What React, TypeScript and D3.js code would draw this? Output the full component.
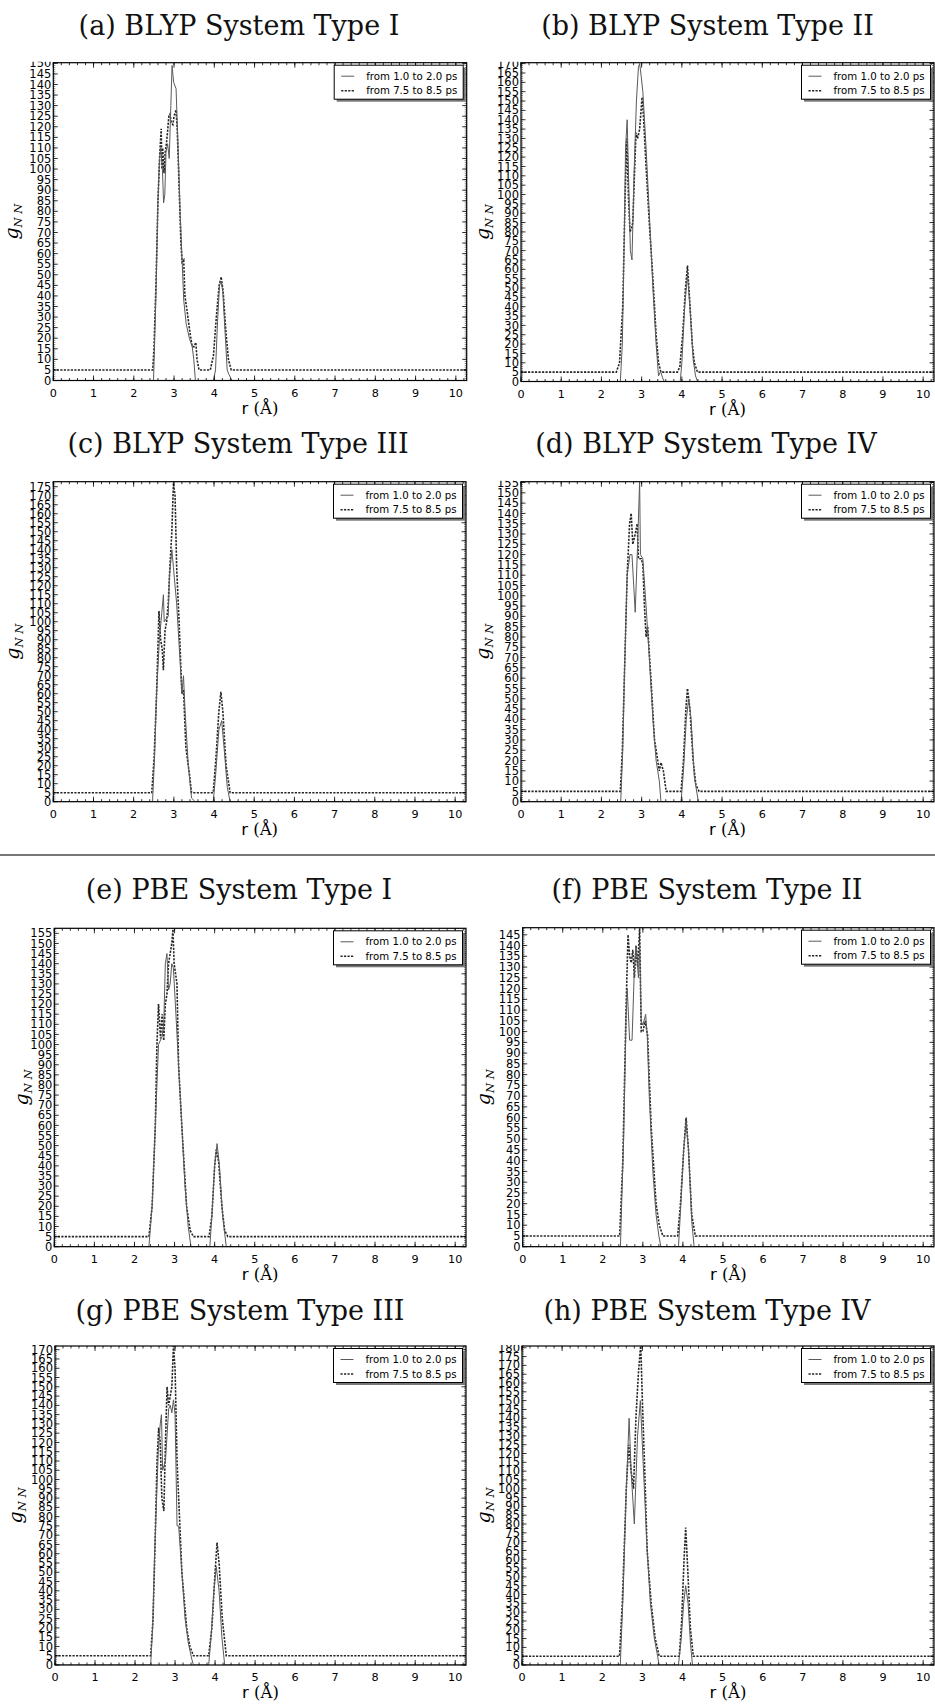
import React from 'react';
import * as d3 from 'd3';

type Pt = [number, number];

// ---------- data (r in Å, g_NN as plotted) ----------
const titles = [
  '(a) BLYP System Type I', '(b) BLYP System Type II',
  '(c) BLYP System Type III', '(d) BLYP System Type IV',
  '(e) PBE System Type I', '(f) PBE System Type II',
  '(g) PBE System Type III', '(h) PBE System Type IV',
];
const legendLabels = ['from 1.0 to 2.0 ps', 'from 7.5 to 8.5 ps'];
const xTicks = [0, 1, 2, 3, 4, 5, 6, 7, 8, 9, 10];
const xMax = 10.27;
const yMaxes = [150.3, 170.5, 177.8, 155.4, 157.5, 148.3, 172, 181];

const aEarly: Pt[] = [[0,0],[2.49,0],[2.55,40],[2.6,85],[2.64,105],[2.67,110],[2.71,100],[2.74,84],[2.77,88],[2.8,108],[2.84,112],[2.88,105],[2.92,130],[2.95,149],[2.99,141],[3.05,138],[3.1,110],[3.15,80],[3.2,57],[3.24,38],[3.3,27],[3.38,20],[3.45,16],[3.49,10],[3.53,0],[3.98,0],[4.03,5],[4.08,28],[4.13,45],[4.17,47],[4.21,42],[4.27,22],[4.32,5],[4.36,3],[4.44,0],[10.3,0]];
const aLate: Pt[] = [[0,5],[2.47,5],[2.5,15],[2.55,45],[2.6,85],[2.64,105],[2.68,119],[2.7,100],[2.72,110],[2.75,98],[2.78,108],[2.81,112],[2.84,118],[2.87,125],[2.9,126],[2.93,122],[2.97,121],[3.0,125],[3.05,128],[3.08,118],[3.12,95],[3.17,65],[3.2,56],[3.24,57],[3.27,40],[3.33,32],[3.4,22],[3.45,16],[3.5,16],[3.54,18],[3.57,10],[3.62,5],[3.9,5],[3.98,12],[4.05,30],[4.12,45],[4.17,49],[4.22,42],[4.28,25],[4.35,10],[4.42,5],[10.3,5]];

const bEarly: Pt[] = [[0,0],[2.47,0],[2.52,20],[2.57,80],[2.6,125],[2.64,140],[2.68,105],[2.72,70],[2.76,65],[2.81,110],[2.87,150],[2.92,168],[2.95,170],[2.99,163],[3.03,155],[3.07,140],[3.11,125],[3.19,90],[3.28,50],[3.36,20],[3.42,3],[3.47,5.5],[3.52,2],[3.56,0],[3.96,0],[4.0,10],[4.07,40],[4.14,57],[4.2,40],[4.28,12],[4.34,3],[4.39,0],[10.3,0]];
const bLate: Pt[] = [[0,5],[2.37,5],[2.45,10],[2.53,40],[2.59,100],[2.63,130],[2.67,100],[2.71,80],[2.75,82],[2.78,85],[2.82,110],[2.86,133],[2.9,130],[2.95,135],[3.01,152],[3.05,140],[3.11,115],[3.19,85],[3.28,55],[3.36,25],[3.42,10],[3.48,5],[3.89,5],[3.95,8],[4.02,25],[4.09,50],[4.14,62],[4.19,45],[4.26,20],[4.31,10],[4.39,5],[10.3,5]];

const cEarly: Pt[] = [[0,0],[2.47,0],[2.52,25],[2.57,60],[2.64,90],[2.7,105],[2.74,115],[2.76,100],[2.82,102],[2.86,103],[2.89,125],[2.95,140],[2.99,130],[3.07,110],[3.15,80],[3.2,60],[3.24,70],[3.28,50],[3.36,20],[3.44,2],[3.53,0],[3.98,0],[4.04,15],[4.12,40],[4.19,45],[4.25,30],[4.33,8],[4.4,0],[10.3,0]];
const cLate: Pt[] = [[0,5],[2.45,5],[2.51,25],[2.57,60],[2.63,106],[2.67,90],[2.71,85],[2.74,73],[2.78,95],[2.82,100],[2.86,110],[2.9,130],[2.95,150],[2.99,177],[3.03,170],[3.07,130],[3.13,100],[3.2,60],[3.24,62],[3.3,30],[3.39,15],[3.44,5],[3.98,5],[4.05,25],[4.12,50],[4.17,61],[4.22,50],[4.3,20],[4.4,5],[10.3,5]];

const dEarly: Pt[] = [[0,0],[2.48,0],[2.53,25],[2.57,60],[2.64,110],[2.71,120],[2.76,120],[2.84,92],[2.9,125],[2.95,156],[2.97,120],[3.03,118],[3.11,95],[3.19,70],[3.28,40],[3.36,20],[3.4,15],[3.44,10],[3.48,0],[3.98,0],[4.04,15],[4.11,40],[4.17,50],[4.23,40],[4.31,12],[4.41,0],[10.3,0]];
const dLate: Pt[] = [[0,5],[2.47,5],[2.52,25],[2.57,60],[2.64,110],[2.7,135],[2.74,140],[2.78,125],[2.84,130],[2.89,135],[2.92,118],[2.99,118],[3.03,115],[3.07,95],[3.11,80],[3.15,85],[3.23,60],[3.32,30],[3.36,25],[3.44,15],[3.48,19],[3.54,15],[3.61,5],[3.98,5],[4.04,20],[4.1,45],[4.14,55],[4.2,45],[4.28,20],[4.35,8],[4.43,5],[10.3,5]];

const eEarly: Pt[] = [[0,0],[2.36,0],[2.44,20],[2.52,60],[2.6,100],[2.69,104],[2.73,110],[2.77,140],[2.81,145],[2.85,127],[2.89,130],[2.93,140],[2.97,138],[3.02,120],[3.1,90],[3.18,60],[3.26,30],[3.34,10],[3.41,0],[3.88,0],[3.93,15],[4.0,40],[4.06,51],[4.12,40],[4.2,15],[4.29,0],[10.3,0]];
const eLate: Pt[] = [[0,5],[2.36,5],[2.44,20],[2.52,60],[2.56,100],[2.6,120],[2.65,103],[2.69,115],[2.73,102],[2.77,120],[2.81,125],[2.85,140],[2.89,145],[2.93,150],[2.96,157],[2.99,140],[3.06,130],[3.1,90],[3.18,60],[3.3,20],[3.39,8],[3.47,5],[3.86,5],[3.93,15],[4.0,40],[4.04,48],[4.1,42],[4.18,20],[4.25,8],[4.33,5],[10.3,5]];

const fEarly: Pt[] = [[0,0],[2.44,0],[2.52,50],[2.58,105],[2.61,120],[2.67,96],[2.73,96],[2.79,130],[2.83,140],[2.89,125],[2.92,140],[2.96,105],[3.0,103],[3.07,108],[3.11,98],[3.16,70],[3.25,35],[3.33,15],[3.4,5],[3.45,0],[3.89,0],[3.95,20],[4.02,45],[4.08,58],[4.14,45],[4.22,12],[4.28,0],[10.3,0]];
const fLate: Pt[] = [[0,5],[2.42,5],[2.5,40],[2.58,110],[2.63,145],[2.67,135],[2.71,132],[2.75,138],[2.79,125],[2.83,140],[2.87,130],[2.92,148],[2.96,100],[3.0,100],[3.06,105],[3.12,98],[3.21,55],[3.33,20],[3.41,10],[3.5,5],[3.87,5],[3.94,20],[4.02,45],[4.08,60],[4.14,45],[4.22,15],[4.31,5],[10.3,5]];

const gEarly: Pt[] = [[0,0],[2.39,0],[2.44,20],[2.49,60],[2.58,115],[2.63,130],[2.66,135],[2.69,105],[2.76,110],[2.84,138],[2.88,140],[2.92,136],[2.96,143],[3.0,135],[3.05,75],[3.09,75],[3.17,50],[3.25,25],[3.33,12],[3.42,3],[3.46,0],[3.84,0],[3.9,15],[3.97,40],[4.03,53],[4.1,40],[4.17,15],[4.24,0],[10.3,0]];
const gLate: Pt[] = [[0,5],[2.39,5],[2.45,25],[2.5,65],[2.55,110],[2.59,128],[2.63,120],[2.67,90],[2.72,83],[2.76,120],[2.8,150],[2.84,140],[2.88,145],[2.92,150],[2.96,172],[3.0,160],[3.05,110],[3.09,90],[3.17,50],[3.29,20],[3.37,10],[3.46,5],[3.84,5],[3.92,20],[4.0,50],[4.05,66],[4.1,55],[4.18,25],[4.28,5],[10.3,5]];

const hEarly: Pt[] = [[0,0],[2.45,0],[2.52,40],[2.6,100],[2.67,140],[2.72,110],[2.8,80],[2.88,130],[2.95,150],[3.05,100],[3.12,65],[3.2,35],[3.3,15],[3.42,0],[3.9,0],[3.97,15],[4.03,35],[4.08,45],[4.14,35],[4.2,12],[4.25,0],[10.3,0]];
const hLate: Pt[] = [[0,5],[2.43,5],[2.5,35],[2.6,100],[2.66,125],[2.72,110],[2.78,100],[2.84,140],[2.9,165],[2.96,182],[3.0,150],[3.06,110],[3.12,65],[3.22,35],[3.32,15],[3.42,5],[3.92,5],[3.98,25],[4.04,60],[4.08,78],[4.13,55],[4.2,20],[4.27,5],[10.3,5]];

const earlySeries = [aEarly, bEarly, cEarly, dEarly, eEarly, fEarly, gEarly, hEarly];
const lateSeries = [aLate, bLate, cLate, dLate, eLate, fLate, gLate, hLate];

// ---------- layout ----------
const layout = [
  { l: 53.3, r: 466.7, t: 62.7, b: 380.5, tx: 239, ty: 34.5, gx: 18 },
  { l: 521, r: 934, t: 62.7, b: 381.5, tx: 707.5, ty: 34.5, gx: 489 },
  { l: 53.3, r: 466, t: 481.7, b: 801.7, tx: 238, ty: 453.3, gx: 19 },
  { l: 521, r: 934, t: 481.7, b: 801.7, tx: 706, ty: 453.3, gx: 489 },
  { l: 54.3, r: 466, t: 928.3, b: 1246.7, tx: 239, ty: 899.3, gx: 28 },
  { l: 522.7, r: 934, t: 927.7, b: 1246.7, tx: 707, ty: 899.3, gx: 490 },
  { l: 55, r: 466, t: 1346, b: 1665, tx: 240, ty: 1320, gx: 22 },
  { l: 522, r: 934, t: 1346, b: 1665, tx: 707, ty: 1320, gx: 490 },
];

const SANS = '"DejaVu Sans", sans-serif';
const SERIF = '"DejaVu Serif", serif';
const DASH = '2.2,1.3';

function Panel({ i }: { i: number }) {
  const L = layout[i];
  const x = d3.scaleLinear().domain([0, xMax]).range([L.l, L.r]);
  const y = d3.scaleLinear().domain([0, yMaxes[i]]).range([L.b, L.t]);
  const line = d3.line<Pt>().x(d => x(d[0])).y(d => y(d[1]));
  const yMajor = d3.range(0, yMaxes[i] + 0.001, 5);
  const yMinor = d3.range(0, yMaxes[i] + 0.001, 1);
  const xMinor = d3.range(0, xMax, 0.2);
  const clipId = `clip${i}`;
  const lblClip = `lclip${i}`;
  const lx = L.r - 3.5 - 129;
  const ly = L.t + 2.5;
  return (
    <g>
      <defs>
        <clipPath id={clipId}>
          <rect x={L.l} y={L.t} width={L.r - L.l} height={L.b - L.t} />
        </clipPath>
        <clipPath id={lblClip}>
          <rect x={L.l - 60} y={L.t - 1} width={70} height={L.b - L.t + 20} />
        </clipPath>
      </defs>
      <text x={L.tx} y={L.ty} textAnchor="middle" fontFamily={SERIF} fontSize={27} fill="#111">{titles[i]}</text>
      {/* data */}
      <g clipPath={`url(#${clipId})`}>
        <path d={line(lateSeries[i]) || ''} fill="none" stroke="#262626" strokeWidth={1.6} strokeDasharray={DASH} />
        <path d={line(earlySeries[i]) || ''} fill="none" stroke="#5a5a5a" strokeWidth={1} />
      </g>
      {/* ticks */}
      <g stroke="#000" strokeWidth={0.8}>
        {xTicks.map(t => (
          <g key={'xt' + t}>
            <line x1={x(t)} x2={x(t)} y1={L.b} y2={L.b - 5} />
            <line x1={x(t)} x2={x(t)} y1={L.t} y2={L.t + 5} />
          </g>
        ))}
        {xMinor.map((t, k) => (
          <g key={'xm' + k}>
            <line x1={x(t)} x2={x(t)} y1={L.b} y2={L.b - 2.5} />
            <line x1={x(t)} x2={x(t)} y1={L.t} y2={L.t + 2.5} />
          </g>
        ))}
        {yMajor.map(t => (
          <g key={'yt' + t}>
            <line x1={L.l} x2={L.l + 4.5} y1={y(t)} y2={y(t)} />
            <line x1={L.r} x2={L.r - 4.5} y1={y(t)} y2={y(t)} />
          </g>
        ))}
        {yMinor.map(t => (
          <g key={'ym' + t} strokeWidth={0.5}>
            <line x1={L.l} x2={L.l + 2} y1={y(t)} y2={y(t)} />
            <line x1={L.r} x2={L.r - 2} y1={y(t)} y2={y(t)} />
          </g>
        ))}
      </g>
      <rect x={L.l} y={L.t} width={L.r - L.l} height={L.b - L.t} fill="none" stroke="#000" strokeWidth={1.2} />
      {/* tick labels */}
      <g fontFamily={SANS} fill="#000">
        {xTicks.map(t => (
          <text key={'xl' + t} x={x(t)} y={L.b + 16} textAnchor="middle" fontSize={11.2}>{t}</text>
        ))}
        <g clipPath={`url(#${lblClip})`} fontSize={11.5}>
          {yMajor.map(t => (
            <text key={'yl' + t} x={L.l - 2} y={y(t) + 4.1} textAnchor="end">{t}</text>
          ))}
        </g>
      </g>
      {/* axis labels */}
      <text x={(L.l + L.r) / 2} y={L.b + 33} textAnchor="middle" fontSize={16.5} fill="#000">
        <tspan fontFamily={SANS}>r </tspan>
        <tspan fontFamily={SERIF}>(Å)</tspan>
      </text>
      <text transform={`translate(${L.gx},${(L.t + L.b) / 2}) rotate(-90)`} textAnchor="middle" fontFamily={SERIF} fontStyle="italic" fill="#000">
        <tspan fontSize={19}>g</tspan>
        <tspan fontSize={11.5} dy={3.5}>N N</tspan>
      </text>
      {/* legend */}
      <rect x={lx + 2.5} y={ly + 2.5} width={129} height={34} fill="#777" />
      <rect x={lx} y={ly} width={129} height={34} fill="#fff" stroke="#000" strokeWidth={1} />
      <line x1={lx + 7} x2={lx + 20} y1={ly + 11} y2={ly + 11} stroke="#5a5a5a" strokeWidth={1} />
      <line x1={lx + 7} x2={lx + 20} y1={ly + 25.5} y2={ly + 25.5} stroke="#262626" strokeWidth={1.6} strokeDasharray={DASH} />
      <g fontFamily={SANS} fontSize={10.2} fill="#000">
        <text x={lx + 32} y={ly + 14.5}>{legendLabels[0]}</text>
        <text x={lx + 32} y={ly + 29}>{legendLabels[1]}</text>
      </g>
    </g>
  );
}

export default function App() {
  return (
    <div style={{ position: 'absolute', left: 0, top: 0 }}>
      <svg width={935} height={1705} viewBox="0 0 935 1705" style={{ display: 'block', background: '#fff' }}>
        <rect x={0} y={0} width={935} height={1705} fill="#fff" />
        {layout.map((_, i) => <Panel key={i} i={i} />)}
        <line x1={0} x2={935} y1={855} y2={855} stroke="#777" strokeWidth={1.8} />
      </svg>
    </div>
  );
}
